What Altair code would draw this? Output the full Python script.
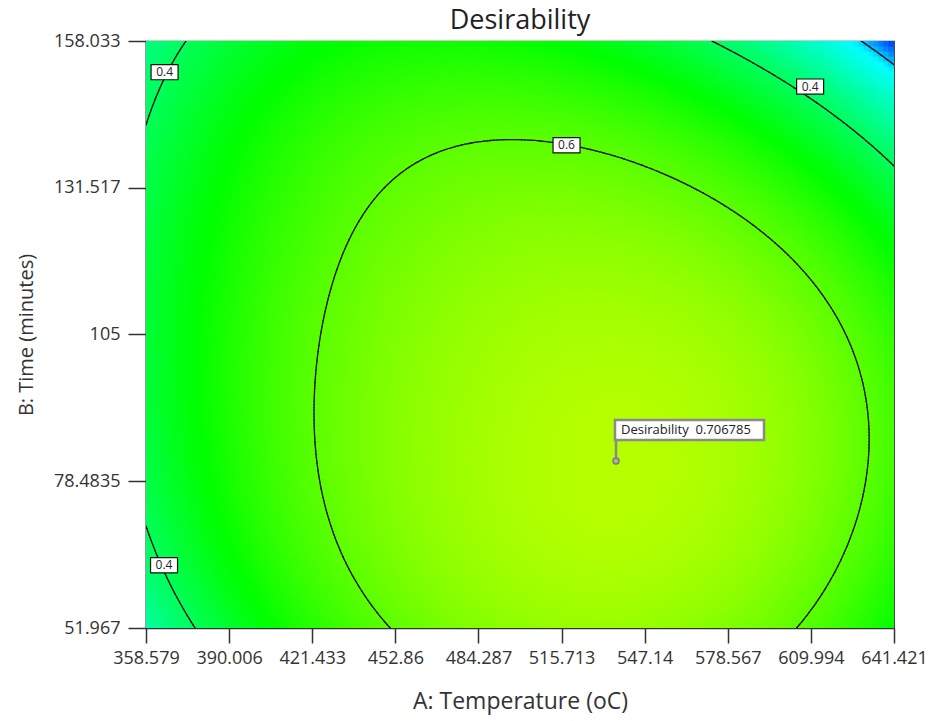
import numpy as np
import pandas as pd
import altair as alt

alt.data_transformers.disable_max_rows()

# ---------------- values ----------------
temp_range = [358.579, 641.421]
time_range = [51.967, 158.033]
x_ticks = [358.579, 390.006, 421.433, 452.86, 484.287, 515.713, 547.14, 578.567, 609.994, 641.421]
y_ticks = [51.967, 78.4835, 105, 131.517, 158.033]

# points
c06_T = [493.8, 459.5, 443.4, 430.7, 423.6, 421.9, 423.9, 430.7, 439.8, 453.3,
         517.2, 539.0, 560.5, 584.0, 602.1, 616.5, 627.3, 632.8, 632.6, 631.0, 623.9, 614.8, 605.8]
c06_t = [138.9, 135.8, 129.6, 120.2, 109.4, 97.2, 83.6, 70.7, 61.3, 52.0,
         137.8, 134.7, 130.4, 123.6, 116.1, 108.0, 98.5, 90.4, 85.0, 76.9, 67.3, 59.3, 52.0]
# points
c04_T = [373.2, 365.8, 358.6, 358.6, 365.6, 374.6, 575.9, 592.0, 609.6, 625.9, 641.4]
c04_t = [158.0, 151.0, 143.2, 71.6, 63.3, 52.0, 158.0, 154.5, 149.7, 143.2, 137.4]
# points (0.2)
c02_T = [624.8, 632.9, 641.4]
c02_t = [158.0, 155.8, 153.6]
# approximate values read from the shading
shade_T = [381.2, 381.2, 381.2, 500.0, 593.4, 641.4, 641.4, 358.6, 514.1, 429.3, 641.4,
           358.6, 358.6, 429.3, 556.6, 641.4, 528.3, 471.7]
shade_t = [105.0, 131.5, 78.5, 158.0, 130.5, 105.0, 52.0, 105.0, 52.0, 158.0, 158.0,
           158.0, 52.0, 52.0, 52.0, 78.5, 110.0, 95.0]
shade_d = [0.50, 0.50, 0.50, 0.50, 0.50, 0.48, 0.50, 0.45, 0.68, 0.47, 0.12,
           0.34, 0.34, 0.57, 0.68, 0.52, 0.66, 0.64]
# optimum flag
opt_T = [536.3]
opt_t = [82.14]
opt_d = [0.706785]
# contour labels
lab_T = [365.6, 365.4, 609.7, 517.6]
lab_t = [152.4, 63.3, 149.8, 139.2]
lab_text = ["0.4", "0.4", "0.4", "0.6"]
contour_levels = [0.2, 0.4, 0.6]

# colour stops of the shading (value -> colour)
color_domain = [0.12, 0.22, 0.50, 0.78]
color_range = ["#0000ff", "#00ffff", "#00ff00", "#ffff00"]

# ---------------- surface reconstructed from the read points ----------------
POWERS = [(i, j) for i in range(5) for j in range(5) if i + j <= 4]

def coded(T, t):
    return (np.asarray(T, float) - 500.0) / 100.0, (np.asarray(t, float) - 105.0) / 37.5

def basis(a, b):
    return np.stack([a ** i * b ** j for i, j in POWERS], axis=-1)

def basis_da(a, b):
    return np.stack([(i * a ** (i - 1) * b ** j) if i > 0 else np.zeros_like(a)
                     for i, j in POWERS], axis=-1)

def basis_db(a, b):
    return np.stack([(j * a ** i * b ** (j - 1)) if j > 0 else np.zeros_like(a)
                     for i, j in POWERS], axis=-1)

rows, ys, ws = [], [], []
def add(M, y, w):
    rows.append(M); ys.append(np.asarray(y, float)); ws.append(np.full(len(y), w))

a, b = coded(c06_T, c06_t); add(basis(a, b), [0.6] * len(a), 3.0)
a, b = coded(c04_T, c04_t); add(basis(a, b), [0.4] * len(a), 3.0)
a, b = coded(c02_T, c02_t); add(basis(a, b), [0.2] * len(a), 3.0)
a, b = coded(shade_T, shade_t); add(basis(a, b), shade_d, 0.5)
a, b = coded(opt_T, opt_t)
add(basis(a, b), opt_d, 6.0)
add(basis_da(a, b), [0.0], 6.0)
add(basis_db(a, b), [0.0], 6.0)
A = np.vstack(rows); Y = np.concatenate(ys); W = np.concatenate(ws)
coef, *_ = np.linalg.lstsq(A * W[:, None], Y * W, rcond=None)

def surface(T, t):
    a, b = coded(T, t)
    return basis(a, b) @ coef

# heat-map cells
NX, NY = 150, 118
dT = (temp_range[1] - temp_range[0]) / NX
dt = (time_range[1] - time_range[0]) / NY
Tc = temp_range[0] + (np.arange(NX) + 0.5) * dT
tc = time_range[0] + (np.arange(NY) + 0.5) * dt
TT, tt = np.meshgrid(Tc, tc)
heat_df = pd.DataFrame({"T": TT.ravel().round(3), "t": tt.ravel().round(3),
                        "d": surface(TT.ravel(), tt.ravel()).round(4)})

# contour segments (marching squares on a node grid)
GX, GY = 240, 190
Tn = np.linspace(temp_range[0], temp_range[1], GX)
tn = np.linspace(time_range[0], time_range[1], GY)
TN, tN = np.meshgrid(Tn, tn)
Z = surface(TN.ravel(), tN.ravel()).reshape(GY, GX)
segs = []
for lev in contour_levels:
    for j in range(GY - 1):
        for i in range(GX - 1):
            z00, z10, z01, z11 = Z[j, i], Z[j, i + 1], Z[j + 1, i], Z[j + 1, i + 1]
            lo = min(z00, z10, z01, z11); hi = max(z00, z10, z01, z11)
            if not (lo < lev < hi):
                continue
            pts = []
            edges = [(z00, Tn[i], tn[j], z10, Tn[i + 1], tn[j]),
                     (z10, Tn[i + 1], tn[j], z11, Tn[i + 1], tn[j + 1]),
                     (z11, Tn[i + 1], tn[j + 1], z01, Tn[i], tn[j + 1]),
                     (z01, Tn[i], tn[j + 1], z00, Tn[i], tn[j])]
            for za, xa, ya, zb, xb, yb in edges:
                if (za - lev) * (zb - lev) < 0:
                    f = (lev - za) / (zb - za)
                    pts.append((xa + f * (xb - xa), ya + f * (yb - ya)))
            if len(pts) >= 2:
                segs.append((pts[0][0], pts[0][1], pts[1][0], pts[1][1]))
            if len(pts) == 4:
                segs.append((pts[2][0], pts[2][1], pts[3][0], pts[3][1]))
seg_df = pd.DataFrame(segs, columns=["T", "t", "T2", "t2"]).round(3)

lab_df = pd.DataFrame({"T": lab_T, "t": lab_t, "label": lab_text})
opt_df = pd.DataFrame({"T": opt_T, "t": opt_t,
                       "label": ["Desirability\u00a0\u00a0" + str(v) for v in opt_d]})

# ---------------- chart ----------------
FONT = "Open Sans"
xs = alt.Scale(domain=temp_range, nice=False, zero=False)
ysc = alt.Scale(domain=time_range, nice=False, zero=False)
x_axis = alt.Axis(values=x_ticks, format=".6~r", title="A: Temperature (oC)", grid=False,
                  tickSize=15, labelPadding=6, labelFlush=False, labelOverlap=False,
                  titleFontSize=23,
                  titleX=374, titleY=73, titleAlign="center", titleBaseline="middle")
y_axis = alt.Axis(values=y_ticks, format=".6~r", title="B: Time (minutes)", grid=False,
                  tickSize=18, labelPadding=8, labelFlush=False, labelOverlap=False,
                  titleFontSize=20,
                  titleX=-120, titleY=293.5, titleAngle=270, titleAlign="center",
                  titleBaseline="middle")

def XE(field="T"):
    return alt.X(f"{field}:Q", scale=xs, axis=x_axis)

def YE(field="t"):
    return alt.Y(f"{field}:Q", scale=ysc, axis=y_axis)

cscale = alt.Scale(domain=color_domain, range=color_range, interpolate="rgb", clamp=True)
heat = alt.Chart(heat_df).mark_rect(width=5.4, height=5.4, clip=True, strokeWidth=0.8).encode(
    x=XE(), y=YE(),
    color=alt.Color("d:Q", scale=cscale, legend=None),
    stroke=alt.Stroke("d:Q", scale=cscale, legend=None),
)

lines = alt.Chart(seg_df).mark_rule(color="#111111", strokeWidth=1.3, strokeCap="round", clip=True).encode(
    x=XE(), y=YE(), x2="T2:Q", y2="t2:Q")

rect_path = "M-1,-0.56L1,-0.56L1,0.56L-1,0.56Z"
boxes = alt.Chart(lab_df).mark_point(shape=rect_path, size=729, filled=True, fill="white",
                                     stroke="#111111", strokeWidth=1.2, opacity=1).encode(x=XE(), y=YE())
texts = alt.Chart(lab_df).mark_text(font=FONT, fontSize=12, color="#222222").encode(
    x=XE(), y=YE(), text="label:N")

flag_line = alt.Chart(opt_df).mark_point(shape="M0,0L0,-1", size=1764, filled=False,
                                         stroke="#8a8a8a", strokeWidth=2.5, opacity=1).encode(x=XE(), y=YE())
flag_dot = alt.Chart(opt_df).mark_point(shape="circle", size=36, filled=True, fill="#b0b0b0",
                                        stroke="#7a7a7a", strokeWidth=1.5, opacity=1).encode(x=XE(), y=YE())
flag_box = alt.Chart(opt_df).mark_point(shape="M-1,-0.134L1,-0.134L1,0.134L-1,0.134Z", size=22201,
                                        filled=True, fill="white", stroke="#8a8a8a", strokeWidth=2.5,
                                        opacity=1, xOffset=73.5, yOffset=-31).encode(x=XE(), y=YE())
flag_text = alt.Chart(opt_df).mark_text(font=FONT, fontSize=13, color="#222222", align="left",
                                        baseline="middle", xOffset=5, yOffset=-31).encode(
    x=XE(), y=YE(), text="label:N")

chart = alt.layer(heat, lines, boxes, texts, flag_line, flag_dot, flag_box, flag_text).properties(
    width=748, height=587,
    title=alt.TitleParams("Desirability", fontSize=27, font=FONT, fontWeight="normal",
                          color="#222222", offset=-3, frame="group", anchor="middle"),
    autosize=alt.AutoSizeParams(type="none"),
    padding={"left": 146, "top": 41, "right": 41, "bottom": 93},
).configure_view(stroke="#333333", strokeWidth=1.2).configure_axis(
    labelFont=FONT, titleFont=FONT, labelFontSize=18,
    labelColor="#333333", titleColor="#333333", titleFontWeight="normal",
    domainColor="#333333", tickColor="#333333", domainWidth=1.5, tickWidth=1.5,
)

chart.save("out.html", embed_options={"renderer": "svg", "actions": False})
